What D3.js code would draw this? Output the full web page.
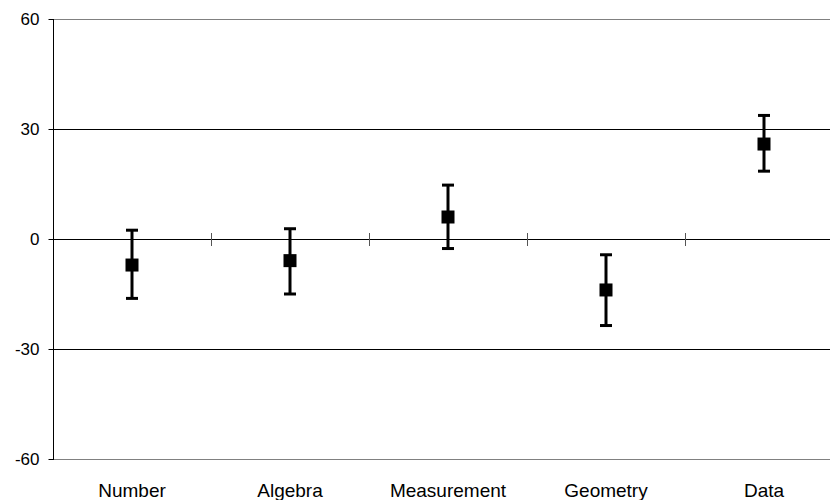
<!DOCTYPE html>
<html>
<head>
<meta charset="utf-8">
<script src="https://cdn.jsdelivr.net/npm/d3@7"></script>
<style>
  body { margin: 0; background: #fff; }
  svg { display: block; font-family: "Liberation Sans", Arial, sans-serif; }
</style>
</head>
<body>
<div id="chart"></div>
<script>
'use strict'

// strands and their estimated score, with the interval ends
var categories = ["Number", "Algebra", "Measurement", "Geometry", "Data"];
var estimates = [-7.1, -5.9, 6.0, -13.9, 25.9];
var upper = [2.4, 2.8, 14.7, -4.3, 33.7];
var lower = [-16.2, -15.0, -2.6, -23.6, 18.5];
var yTicks = [-60, -30, 0, 30, 60];

var width = 830, height = 500;
var plotLeft = 53, plotTop = 19, plotW = 790, plotH = 440;

var svg = d3.select("#chart").append("svg")
    .attr("width", width).attr("height", height);

var x = d3.scaleBand().domain(categories).range([plotLeft, plotLeft + plotW]);
var y = d3.scaleLinear().domain([-60, 60]).range([plotTop + plotH, plotTop]);

var data = categories.map(function (c, i) {
    return { cat: c, est: estimates[i], hi: upper[i], lo: lower[i] };
});

// horizontal gridlines
svg.append("g").selectAll("line")
    .data(yTicks)
    .enter().append("line")
    .attr("x1", plotLeft).attr("x2", plotLeft + plotW)
    .attr("y1", function (d) { return Math.round(y(d)) + 0.5; })
    .attr("y2", function (d) { return Math.round(y(d)) + 0.5; })
    .attr("stroke", function (d) { return Math.abs(d) === 60 ? "#808080" : "#000"; })
    .attr("stroke-width", 1);

// y axis (plain hyphen for negatives)
var yAxis = d3.axisLeft(y).tickValues(yTicks).tickSize(5).tickPadding(9)
    .tickFormat(function (d) { return String(d); });
var ga = svg.append("g")
    .attr("transform", "translate(" + (plotLeft + 0.5) + ",0)")
    .call(yAxis);
ga.select(".domain").remove();
ga.selectAll("text")
    .attr("font-size", 17)
    .attr("font-family", "Liberation Sans, Arial, sans-serif")
    .attr("fill", "#000");
ga.selectAll("line").attr("stroke", "#000");
svg.append("line")
    .attr("x1", plotLeft + 0.5).attr("x2", plotLeft + 0.5)
    .attr("y1", plotTop).attr("y2", plotTop + plotH + 1)
    .attr("stroke", "#000");

// category dividers crossing the zero line
var bounds = categories.slice(1).map(function (c) { return x(c); });
svg.append("g").selectAll("line")
    .data(bounds)
    .enter().append("line")
    .attr("x1", function (d) { return Math.round(d) + 0.5; })
    .attr("x2", function (d) { return Math.round(d) + 0.5; })
    .attr("y1", y(0) - 6).attr("y2", y(0) + 7)
    .attr("stroke", "#555");

// category labels
svg.append("g").selectAll("text")
    .data(categories)
    .enter().append("text")
    .attr("x", function (d) { return x(d) + x.bandwidth() / 2; })
    .attr("y", 497)
    .attr("text-anchor", "middle")
    .attr("font-size", 19)
    .text(function (d) { return d; });

// error bars
var cx = function (d) { return Math.round(x(d.cat) + x.bandwidth() / 2); };
var marks = svg.append("g").selectAll("g")
    .data(data)
    .enter().append("g");

marks.append("line")
    .attr("x1", cx).attr("x2", cx)
    .attr("y1", function (d) { return y(d.hi); })
    .attr("y2", function (d) { return y(d.lo); })
    .attr("stroke", "#000").attr("stroke-width", 3);

marks.append("line")
    .attr("x1", function (d) { return cx(d) - 6; })
    .attr("x2", function (d) { return cx(d) + 6; })
    .attr("y1", function (d) { return y(d.hi); })
    .attr("y2", function (d) { return y(d.hi); })
    .attr("stroke", "#000").attr("stroke-width", 3);

marks.append("line")
    .attr("x1", function (d) { return cx(d) - 6; })
    .attr("x2", function (d) { return cx(d) + 6; })
    .attr("y1", function (d) { return y(d.lo); })
    .attr("y2", function (d) { return y(d.lo); })
    .attr("stroke", "#000").attr("stroke-width", 3);

marks.append("rect")
    .attr("x", function (d) { return cx(d) - 6.5; })
    .attr("y", function (d) { return y(d.est) - 6.5; })
    .attr("width", 13).attr("height", 13)
    .attr("fill", "#000");
</script>
</body>
</html>
